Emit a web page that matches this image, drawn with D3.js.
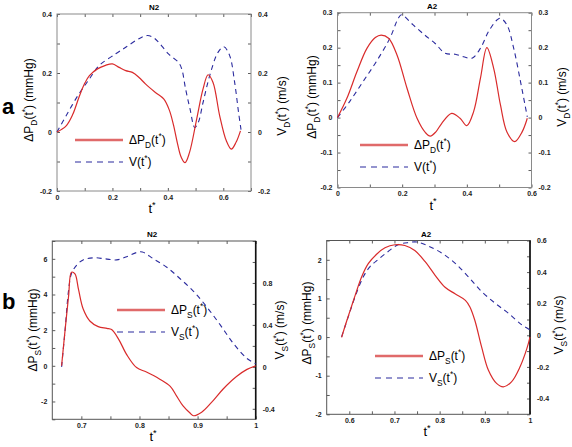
<!DOCTYPE html>
<html><head><meta charset="utf-8">
<script src="https://cdn.jsdelivr.net/npm/d3@7"></script>
<style>
html,body{margin:0;padding:0;background:#fff;}
svg{display:block;font-family:"Liberation Sans",Arial,sans-serif;}
</style></head>
<body>
<svg id="chart" width="572" height="447"></svg>
<script>
// ---------- DATA ----------
// Panel a, N2 (diastole)
const tN2D_P = [0,0.033,0.057,0.079,0.1,0.117,0.146,0.175,0.2,0.224,0.248,0.272,0.296,0.319,0.355,0.385,0.405,0.42,0.435,0.448,0.462,0.478,0.504,0.527,0.545,0.563,0.587,0.611,0.629,0.646,0.662];
const pN2D    = [0,0.021,0.06,0.117,0.165,0.191,0.214,0.226,0.231,0.219,0.208,0.202,0.185,0.163,0.134,0.112,0.075,0.025,-0.04,-0.085,-0.104,-0.07,0.044,0.146,0.194,0.168,0.055,-0.03,-0.058,-0.035,0.004];
const tN2D_V = [0,0.033,0.075,0.117,0.152,0.212,0.248,0.295,0.325,0.345,0.367,0.402,0.438,0.45,0.464,0.48,0.497,0.51,0.527,0.551,0.581,0.602,0.623,0.641,0.655,0.664];
const vN2D    = [0,0.055,0.123,0.18,0.225,0.265,0.287,0.316,0.327,0.322,0.304,0.265,0.236,0.214,0.146,0.078,0.015,0.033,0.1,0.191,0.27,0.289,0.259,0.168,0.067,0.008];
// Panel a, A2 (diastole)
const tA2D_P = [0,0.029,0.06,0.091,0.117,0.135,0.158,0.184,0.215,0.246,0.272,0.287,0.305,0.322,0.353,0.379,0.4,0.421,0.442,0.462,0.483,0.504,0.524,0.548,0.571,0.587];
const pA2D    = [0,0.055,0.131,0.198,0.229,0.236,0.227,0.179,0.084,-0.002,-0.043,-0.053,-0.04,-0.017,0.012,-0.002,-0.023,0.017,0.112,0.2,0.141,0.036,-0.041,-0.069,-0.041,-0.002];
const tA2D_V = [0,0.037,0.079,0.12,0.162,0.188,0.198,0.234,0.27,0.302,0.333,0.364,0.39,0.416,0.442,0.467,0.493,0.504,0.524,0.545,0.566,0.581,0.587];
const vA2D    = [0,0.045,0.103,0.16,0.227,0.284,0.294,0.265,0.236,0.212,0.184,0.181,0.174,0.17,0.198,0.246,0.279,0.284,0.265,0.198,0.103,0.031,0.002];
// Panel b, N2 (systole)
const tN2S_P = [0.666,0.672,0.678,0.683,0.689,0.695,0.703,0.715,0.729,0.744,0.752,0.764,0.778,0.795,0.812,0.835,0.853,0.864,0.875,0.887,0.893,0.907,0.924,0.944,0.967,0.985,1.0];
const pN2S    = [0,2.0,3.9,5.25,5.15,4.3,3.2,2.5,2.2,2.1,2.03,1.5,0.63,-0.1,-0.35,-0.75,-1.15,-1.7,-2.25,-2.65,-2.8,-2.6,-2.05,-1.3,-0.6,-0.2,0];
const tN2S_V = [0.666,0.672,0.678,0.683,0.692,0.703,0.721,0.741,0.761,0.778,0.795,0.805,0.824,0.847,0.87,0.893,0.916,0.939,0.962,0.985,1.0];
const vN2S    = [0,0.35,0.73,0.89,0.97,1.02,1.04,1.03,1.02,1.05,1.09,1.095,1.03,0.95,0.84,0.72,0.57,0.40,0.22,0.08,0.03];
// Panel b, A2 (systole)
const tA2S_P = [0.583,0.59,0.602,0.613,0.627,0.642,0.661,0.679,0.701,0.723,0.745,0.768,0.79,0.812,0.834,0.857,0.867,0.878,0.893,0.908,0.926,0.941,0.959,0.978,0.993,1.0];
const pA2S    = [-0.01,0.26,0.69,1.08,1.55,1.9,2.15,2.31,2.39,2.37,2.24,1.95,1.6,1.29,1.12,0.95,0.78,0.43,-0.26,-0.86,-1.2,-1.29,-1.16,-0.77,-0.3,0];
const tA2S_V = [0.583,0.598,0.613,0.631,0.646,0.664,0.686,0.708,0.731,0.75,0.775,0.805,0.834,0.863,0.893,0.923,0.952,0.982,1.0];
const vA2S    = [-0.01,0.12,0.245,0.37,0.435,0.48,0.53,0.573,0.587,0.59,0.565,0.52,0.457,0.372,0.277,0.203,0.14,0.066,0.034];

// Tick values / labels
const xTicksTL = [0,0.1,0.2,0.3,0.4,0.5,0.6,0.7], xLabTL = [0,0.2,0.4,0.6];
const yTicksTL = [-0.2,-0.1,0,0.1,0.2,0.3,0.4], yLabTL = [-0.2,0,0.2,0.4];
const xTicksTR = [0,0.1,0.2,0.3,0.4,0.5,0.6], xLabTR = [0,0.2,0.4,0.6];
const yTicksTR = [-0.2,-0.15,-0.1,-0.05,0,0.05,0.1,0.15,0.2,0.25,0.3], yLabTR = [-0.2,-0.1,0,0.1,0.2,0.3];
const xTicksBL = [0.7,0.75,0.8,0.85,0.9,0.95,1], xLabBL = [0.7,0.8,0.9,1];
const yTicksBL = [-3,-2,-1,0,1,2,3,4,5,6,7], yLabBL = [-2,0,2,4,6];
const rTicksBL = [-0.4,-0.2,0,0.2,0.4,0.6,0.8,1.0,1.2], rLabBL = [-0.4,0,0.4,0.8];
const xTicksBR = [0.6,0.65,0.7,0.75,0.8,0.85,0.9,0.95,1], xLabBR = [0.6,0.7,0.8,0.9,1];
const yTicksBR = [-2,-1.5,-1,-0.5,0,0.5,1,1.5,2,2.5], yLabBR = [-2,-1,0,1,2];
const rTicksBR = [-0.5,-0.4,-0.3,-0.2,-0.1,0,0.1,0.2,0.3,0.4,0.5,0.6], rLabBR = [-0.4,-0.2,0,0.2,0.4,0.6];

// ---------- DRAWING ----------
const svg = d3.select("#chart");
const RED = "#d92b2b", BLUE = "#2b2b9e", LEGRED = "#e06a6a";
const fmt = v => String(+v.toFixed(3));
const near = (arr, v) => arr.some(a => Math.abs(a - v) < 1e-9);

function rich(sel, parts, size) {
  parts.forEach(p => {
    const ts = sel.append("tspan").text(p.t);
    if (p.sub) { ts.attr("font-size", size * 0.7).attr("dy", size * 0.3); }
    else if (p.sup) { ts.attr("font-size", size * 0.7).attr("dy", -size * 0.4); }
    else if (p.back !== undefined) { ts.attr("dy", p.back); }
  });
}

function panel(c) {
  const g = svg.append("g");
  const x = d3.scaleLinear().domain(c.xd).range([c.l, c.r]);
  const yl = d3.scaleLinear().domain(c.yld).range([c.b, c.t]);
  const yr = d3.scaleLinear().domain(c.yrd).range([c.b, c.t]);
  const tf = labs => v => near(labs, v) ? fmt(v) : "";
  const style = a => {
    a.select(".domain").remove();
    a.selectAll("line").attr("stroke", "#333").attr("stroke-width", 0.8);
    a.selectAll("text").attr("font-size", 7).attr("font-weight", "bold").attr("fill", "#222")
      .attr("font-family", "'Liberation Sans',Arial,sans-serif");
  };
  g.append("g").attr("transform", `translate(0,${c.b})`)
    .call(d3.axisBottom(x).tickValues(c.xt).tickFormat(tf(c.xl)).tickSize(-3).tickPadding(4)).call(style);
  g.append("g").attr("transform", `translate(0,${c.t})`)
    .call(d3.axisTop(x).tickValues(c.xt).tickFormat("").tickSize(-3)).call(style);
  g.append("g").attr("transform", `translate(${c.l},0)`)
    .call(d3.axisLeft(yl).tickValues(c.ylt).tickFormat(tf(c.yll)).tickSize(-3).tickPadding(5)).call(style);
  g.append("g").attr("transform", `translate(${c.r},0)`)
    .call(d3.axisRight(yr).tickValues(c.yrt).tickFormat(tf(c.yrl)).tickSize(-3).tickPadding(7)).call(style);

  g.append("rect").attr("x", c.l).attr("y", c.t).attr("width", c.r - c.l).attr("height", c.b - c.t)
    .attr("fill", "none").attr("stroke", c.frame).attr("stroke-width", 1);
  if (c.rightBold) {
    g.append("line").attr("x1", c.r).attr("x2", c.r).attr("y1", c.t).attr("y2", c.b)
      .attr("stroke", "#111").attr("stroke-width", 1.6);
  }

  const lineL = d3.line().x(d => x(d[0])).y(d => yl(d[1])).curve(d3.curveCatmullRom.alpha(0.5));
  const lineR = d3.line().x(d => x(d[0])).y(d => yr(d[1])).curve(d3.curveCatmullRom.alpha(0.5));
  g.append("path").datum(d3.zip(c.tv, c.vv)).attr("d", lineR)
    .attr("fill", "none").attr("stroke", BLUE).attr("stroke-width", 1.1).attr("stroke-dasharray", "5,4");
  g.append("path").datum(d3.zip(c.tp, c.pv)).attr("d", lineL)
    .attr("fill", "none").attr("stroke", RED).attr("stroke-width", 1.2);

  // title
  g.append("text").attr("x", c.titleX).attr("y", c.t - 4).attr("text-anchor", "middle")
    .attr("font-size", 8).attr("font-weight", "bold").text(c.title);
  // x label
  const xlab = g.append("text").attr("x", c.xlabX).attr("y", c.b + 22).attr("text-anchor", "middle")
    .attr("font-size", 13);
  rich(xlab, [{t: "t"}, {t: "*", sup: true}], 13);
  // left y label
  const ll = g.append("text").attr("transform", `translate(${c.ylabX},${c.ylabY}) rotate(-90)`)
    .attr("text-anchor", "middle").attr("font-size", 12);
  rich(ll, [{t: "ΔP"}, {t: c.sub, sub: true}, {t: "(t", back: -12 * 0.3}, {t: "*", sup: true},
    {t: ")" + c.unitGap + "(mmHg)", back: 12 * 0.4}], 12);
  const rl = g.append("text").attr("transform", `translate(${c.yrlabX},${c.yrlabY}) rotate(-90)`)
    .attr("text-anchor", "middle").attr("font-size", 12);
  rich(rl, [{t: "V"}, {t: c.sub, sub: true}, {t: "(t", back: -12 * 0.3}, {t: "*", sup: true},
    {t: ") (m/s)", back: 12 * 0.4}], 12);

  // legend
  g.append("line").attr("x1", c.legX).attr("x2", c.legX + 48).attr("y1", c.legY).attr("y2", c.legY)
    .attr("stroke", LEGRED).attr("stroke-width", 2.5);
  g.append("line").attr("x1", c.legX).attr("x2", c.legX + 48).attr("y1", c.legY + 22).attr("y2", c.legY + 22)
    .attr("stroke", BLUE).attr("stroke-width", 1.2).attr("stroke-dasharray", "6,5");
  const l1 = g.append("text").attr("x", c.legX + 54).attr("y", c.legY + 4).attr("font-size", 12);
  rich(l1, [{t: "ΔP"}, {t: c.sub, sub: true}, {t: "(t", back: -12 * 0.3}, {t: "*", sup: true}, {t: ")", back: 12 * 0.4}], 12);
  const l2 = g.append("text").attr("x", c.legX + 54).attr("y", c.legY + 26).attr("font-size", 12);
  if (c.legVsub) rich(l2, [{t: "V"}, {t: c.sub, sub: true}, {t: "(t", back: -12 * 0.3}, {t: "*", sup: true}, {t: ")", back: 12 * 0.4}], 12);
  else rich(l2, [{t: "V(t"}, {t: "*", sup: true}, {t: ")", back: 12 * 0.4}], 12);
}

panel({l: 57, r: 251, t: 14, b: 191, xd: [0, 0.7], yld: [-0.2, 0.4], yrd: [-0.2, 0.4],
  xt: xTicksTL, xl: xLabTL, ylt: yTicksTL, yll: yLabTL, yrt: yTicksTL, yrl: yLabTL,
  tp: tN2D_P, pv: pN2D, tv: tN2D_V, vv: vN2D, frame: "#8a8a8a", rightBold: false,
  title: "N2", titleX: 154, xlabX: 152, ylabX: 33, ylabY: 100, yrlabX: 286, yrlabY: 106,
  sub: "D", unitGap: " ", legX: 75, legY: 140, legVsub: false});
panel({l: 337.5, r: 531.5, t: 12.7, b: 187.5, xd: [0, 0.6], yld: [-0.2, 0.3], yrd: [-0.2, 0.3],
  xt: xTicksTR, xl: xLabTR, ylt: yTicksTR, yll: yLabTR, yrt: yTicksTR, yrl: yLabTR,
  tp: tA2D_P, pv: pA2D, tv: tA2D_V, vv: vA2D, frame: "#8a8a8a", rightBold: false,
  title: "A2", titleX: 432, xlabX: 433, ylabX: 316, ylabY: 97, yrlabX: 566, yrlabY: 97,
  sub: "D", unitGap: " ", legX: 360, legY: 145, legVsub: false});
panel({l: 52.3, r: 255.7, t: 241, b: 419.3, xd: [0.65, 1], yld: [-3, 7], yrd: [-0.5, 1.2],
  xt: xTicksBL, xl: xLabBL, ylt: yTicksBL, yll: yLabBL, yrt: rTicksBL, yrl: rLabBL,
  tp: tN2S_P, pv: pN2S, tv: tN2S_V, vv: vN2S, frame: "#555", rightBold: true,
  title: "N2", titleX: 152, xlabX: 153, ylabX: 37, ylabY: 330, yrlabX: 284, yrlabY: 330,
  sub: "S", unitGap: "  ", legX: 117, legY: 310, legVsub: true});
panel({l: 326.7, r: 530, t: 240.5, b: 414.3, xd: [0.55, 1], yld: [-2, 2.5], yrd: [-0.5, 0.6],
  xt: xTicksBR, xl: xLabBR, ylt: yTicksBR, yll: yLabBR, yrt: rTicksBR, yrl: rLabBR,
  tp: tA2S_P, pv: pA2S, tv: tA2S_V, vv: vA2S, frame: "#555", rightBold: true,
  title: "A2", titleX: 426, xlabX: 427, ylabX: 311, ylabY: 323, yrlabX: 563, yrlabY: 325,
  sub: "S", unitGap: "  ", legX: 375, legY: 356, legVsub: true});

// panel letters
svg.append("text").attr("x", 2).attr("y", 114).attr("font-size", 22).attr("font-weight", "bold").text("a");
svg.append("text").attr("x", 2).attr("y", 309).attr("font-size", 22).attr("font-weight", "bold").text("b");
</script>
</body></html>
